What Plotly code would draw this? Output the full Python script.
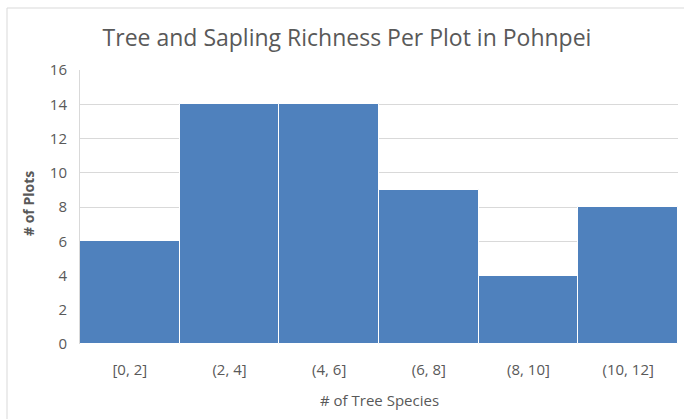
import plotly.graph_objects as go

BIN_LABELS = ["[0, 2]", "(2, 4]", "(4, 6]", "(6, 8]", "(8, 10]", "(10, 12]"]
PLOT_COUNTS = [6, 14, 14, 9, 4, 8]
Y_TICKS = [0, 2, 4, 6, 8, 10, 12, 14, 16]

AZUL = "#4F81BD"
GRIS_TEXTO = "#595959"
GRIS_REJILLA = "#D9D9D9"
FUENTE = "Open Sans, sans-serif"

# area de trazado: x 80..678, y 70..344 (px)
ML, MR, MT, MB = 80, 6, 70, 75
PW, PH = 684 - ML - MR, 419 - MT - MB

fig = go.Figure(go.Bar(
    x=BIN_LABELS,
    y=PLOT_COUNTS,
    marker=dict(color=AZUL, line=dict(color="#FFFFFF", width=1)),
    hoverinfo="x+y",
))

fig.update_layout(
    width=684, height=419,
    plot_bgcolor="#FFFFFF",
    paper_bgcolor="#FFFFFF",
    margin=dict(l=ML, r=MR, t=MT, b=MB),
    bargap=0,
    showlegend=False,
    font=dict(family=FUENTE, color=GRIS_TEXTO, size=15),
    title=dict(
        text="Tree and Sapling Richness Per Plot in Pohnpei",
        x=347 / 684, xanchor="center",
        y=1 - 38 / 419, yanchor="middle",
        font=dict(size=23, color=GRIS_TEXTO, family=FUENTE),
    ),
    xaxis=dict(
        automargin=False,
        tickfont=dict(size=15, color=GRIS_TEXTO),
        showgrid=False,
        showline=False,
        ticks="outside", ticklen=12, tickcolor="#FFFFFF",
    ),
    yaxis=dict(
        automargin=False,
        range=[0, 16],
        tickvals=Y_TICKS,
        tickfont=dict(size=15, color=GRIS_TEXTO),
        gridcolor=GRIS_REJILLA,
        gridwidth=1,
        showline=True,
        linecolor=GRIS_REJILLA,
        zeroline=False,
        ticks="outside", ticklen=9, tickcolor="#FFFFFF",
    ),
    annotations=[
        dict(text="# of Tree Species", xref="paper", yref="paper",
             x=0.5, y=-(400 - 344) / PH, xanchor="center", yanchor="middle",
             showarrow=False, font=dict(size=15, color=GRIS_TEXTO)),
        dict(text="<b># of Plots</b>", xref="paper", yref="paper",
             x=-(ML - 28) / PW, y=1 - (204 - MT) / PH, xanchor="center", yanchor="middle",
             textangle=-90, showarrow=False, font=dict(size=14, color=GRIS_TEXTO)),
    ],
    shapes=[
        dict(type="rect", xref="paper", yref="paper",
             x0=-(ML - 7) / PW, x1=1 + 20 / PW, y0=-200 / PH, y1=1 + (MT - 8) / PH,
             line=dict(color=GRIS_REJILLA, width=1), fillcolor="rgba(0,0,0,0)",
             layer="below"),
    ],
)

fig.write_html("out.html", config={"displayModeBar": False},
               post_script="document.body.style.margin='0';")
